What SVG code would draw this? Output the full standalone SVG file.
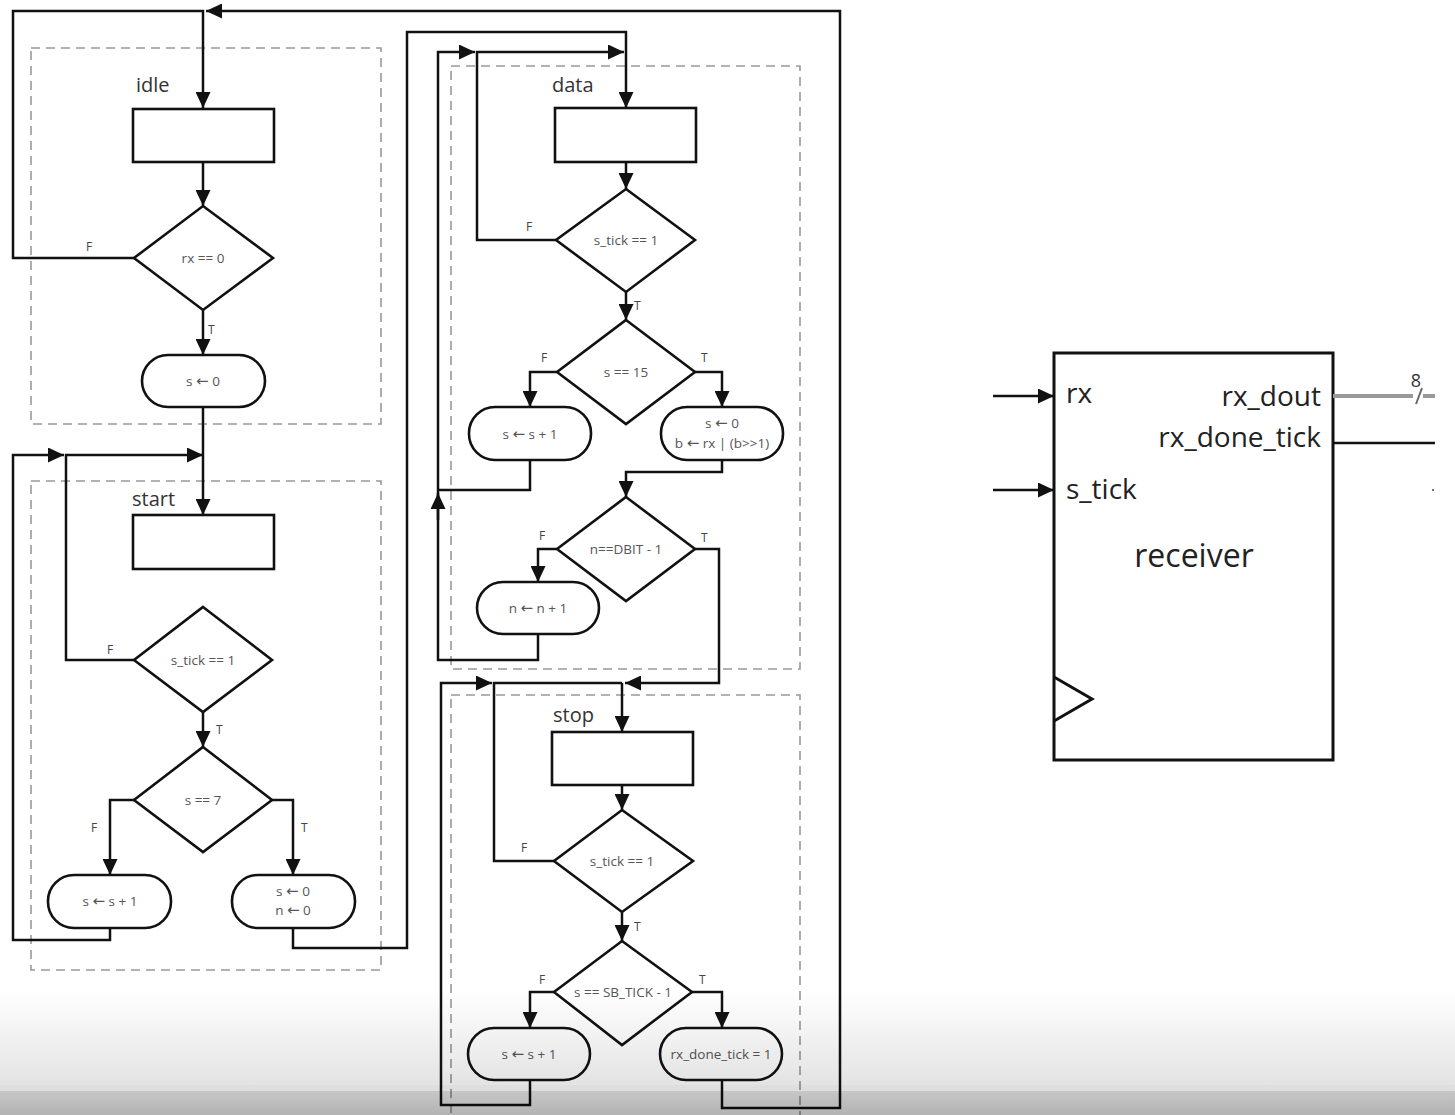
<svg xmlns="http://www.w3.org/2000/svg" width="1455" height="1115" viewBox="0 0 1455 1115">
<style>
.conn path{fill:none;stroke:#111;stroke-width:2.5}
.box{fill:#fff;stroke:#111;stroke-width:2.6}
.grp{fill:none;stroke:#999;stroke-width:1.6;stroke-dasharray:9,6}
.lbl{font-family:"Open Sans","Noto Sans",sans-serif;font-size:13.5px;fill:#555;text-anchor:middle}
.ar{font-family:"DejaVu Sans",sans-serif;font-size:15px}
.tf{font-family:"Open Sans","Noto Sans",sans-serif;font-size:12px;fill:#444}
.state{font-family:"Open Sans","Noto Sans",sans-serif;font-size:20px;fill:#333}
.big{font-family:"Open Sans","Noto Sans",sans-serif;font-size:28px;fill:#222}
</style>
<defs>
<marker id="ah" markerUnits="userSpaceOnUse" markerWidth="16" markerHeight="15" refX="16" refY="7.5" orient="auto"><path d="M0,0 L16,7.5 L0,15 z" fill="#111"/></marker>
<linearGradient id="g1" x1="0" y1="0" x2="0" y2="1"><stop offset="0" stop-color="#000" stop-opacity="0"/><stop offset="1" stop-color="#000" stop-opacity="0.11"/></linearGradient>
<linearGradient id="g2" x1="0" y1="0" x2="0" y2="1"><stop offset="0" stop-color="#000" stop-opacity="0.22"/><stop offset="1" stop-color="#000" stop-opacity="0.3"/></linearGradient>
</defs>
<rect width="1455" height="1115" fill="#fff"/>

<!-- group frames -->
<rect class="grp" x="31" y="48" width="350" height="376"/>
<rect class="grp" x="31" y="481" width="350" height="489"/>
<rect class="grp" x="451" y="66" width="349" height="603"/>
<rect class="grp" x="451" y="695" width="349" height="430"/>
<text class="state" x="136" y="92">idle</text>
<text class="state" x="132" y="506">start</text>
<text class="state" x="552" y="92">data</text>
<text class="state" x="553" y="722">stop</text>

<g class="conn">
<path d="M134,258 H13 V11 H203 V108" marker-end="url(#ah)"/>
<path d="M722,1080 V1108 H840 V11 H206" marker-end="url(#ah)"/>
<path d="M203,162 V206" marker-end="url(#ah)"/>
<path d="M203,310 V355" marker-end="url(#ah)"/>
<path d="M203,407 V515" marker-end="url(#ah)"/>
<path d="M134,660 H66 V455 H203" marker-end="url(#ah)"/>
<path d="M110,928 V940 H13 V455 H64" marker-end="url(#ah)"/>
<path d="M203,712 V747" marker-end="url(#ah)"/>
<path d="M134,800 H110 V875" marker-end="url(#ah)"/>
<path d="M272,800 H293 V875" marker-end="url(#ah)"/>
<path d="M293,928 V948 H407 V32 H626 V108" marker-end="url(#ah)"/>
<path d="M626,162 V189" marker-end="url(#ah)"/>
<path d="M556,240 H477 V52 H624" marker-end="url(#ah)"/>
<path d="M538,634 V660 H438 V52 H475" marker-end="url(#ah)"/>
<path d="M438,520 V493" marker-end="url(#ah)"/>
<path d="M530,460 V490 H438"/>
<path d="M626,292 V320" marker-end="url(#ah)"/>
<path d="M557,372 H530 V407" marker-end="url(#ah)"/>
<path d="M695,372 H722 V407" marker-end="url(#ah)"/>
<path d="M722,460 V472 H626 V497" marker-end="url(#ah)"/>
<path d="M557,549 H538 V582" marker-end="url(#ah)"/>
<path d="M695,549 H719 V683 H625" marker-end="url(#ah)"/>
<path d="M530,1080 V1105 H441 V683 H492" marker-end="url(#ah)"/>
<path d="M554,861 H494 V683 H622"/>
<path d="M622,683 V732" marker-end="url(#ah)"/>
<path d="M622,785 V810" marker-end="url(#ah)"/>
<path d="M622,912 V941" marker-end="url(#ah)"/>
<path d="M554,992 H530 V1028" marker-end="url(#ah)"/>
<path d="M692,992 H722 V1028" marker-end="url(#ah)"/>
<path d="M993,396 H1054" marker-end="url(#ah)"/>
<path d="M993,490 H1054" marker-end="url(#ah)"/>
</g>

<!-- idle -->
<g id="idle-box"><rect class="box" x="133" y="109" width="141" height="53"/></g>
<g id="idle-cond"><polygon class="box" points="203,206 273,258 203,310 134,258"/><text class="lbl" x="203" y="263">rx == 0</text><text class="tf" x="86" y="251">F</text><text class="tf" x="208" y="334">T</text></g>
<g id="idle-act"><rect class="box" x="142" y="355" width="123" height="52" rx="26"/><text class="lbl" x="203" y="386">s <tspan class="ar">←</tspan> 0</text></g>

<!-- start -->
<g id="start-box"><rect class="box" x="133" y="515" width="141" height="54"/></g>
<g id="start-tick"><polygon class="box" points="203,607 272,660 203,712 134,660"/><text class="lbl" x="203" y="665">s_tick == 1</text><text class="tf" x="107" y="654">F</text><text class="tf" x="216" y="734">T</text></g>
<g id="start-s7"><polygon class="box" points="203,747 272,800 203,852 134,800"/><text class="lbl" x="203" y="805">s == 7</text><text class="tf" x="91" y="832">F</text><text class="tf" x="301" y="832">T</text></g>
<g id="start-inc"><rect class="box" x="48" y="875" width="123" height="53" rx="26"/><text class="lbl" x="110" y="906">s <tspan class="ar">←</tspan> s + 1</text></g>
<g id="start-rst"><rect class="box" x="232" y="875" width="123" height="53" rx="26"/><text class="lbl" x="293" y="896">s <tspan class="ar">←</tspan> 0</text><text class="lbl" x="293" y="915">n <tspan class="ar">←</tspan> 0</text></g>

<!-- data -->
<g id="data-box"><rect class="box" x="555" y="108" width="141" height="54"/></g>
<g id="data-tick"><polygon class="box" points="626,189 695,240 626,292 556,240"/><text class="lbl" x="626" y="245">s_tick == 1</text><text class="tf" x="526" y="231">F</text><text class="tf" x="634" y="310">T</text></g>
<g id="data-s15"><polygon class="box" points="626,320 695,372 626,424 557,372"/><text class="lbl" x="626" y="377">s == 15</text><text class="tf" x="541" y="362">F</text><text class="tf" x="701" y="362">T</text></g>
<g id="data-inc"><rect class="box" x="469" y="407" width="122" height="53" rx="26"/><text class="lbl" x="530" y="439">s <tspan class="ar">←</tspan> s + 1</text></g>
<g id="data-shift"><rect class="box" x="661" y="407" width="122" height="53" rx="26"/><text class="lbl" x="722" y="428">s <tspan class="ar">←</tspan> 0</text><text class="lbl" x="722" y="448">b <tspan class="ar">←</tspan> rx | (b&gt;&gt;1)</text></g>
<g id="data-n"><polygon class="box" points="626,497 695,549 626,601 557,549"/><text class="lbl" x="626" y="554">n==DBIT - 1</text><text class="tf" x="539" y="540">F</text><text class="tf" x="701" y="542">T</text></g>
<g id="data-ninc"><rect class="box" x="477" y="582" width="122" height="52" rx="26"/><text class="lbl" x="538" y="613">n <tspan class="ar">←</tspan> n + 1</text></g>

<!-- stop -->
<g id="stop-box"><rect class="box" x="552" y="732" width="141" height="53"/></g>
<g id="stop-tick"><polygon class="box" points="622,810 693,861 622,912 554,861"/><text class="lbl" x="622" y="866">s_tick == 1</text><text class="tf" x="521" y="852">F</text><text class="tf" x="634" y="931">T</text></g>
<g id="stop-sb"><polygon class="box" points="622,941 692,992 622,1045 554,992"/><text class="lbl" x="623" y="997">s == SB_TICK - 1</text><text class="tf" x="539" y="984">F</text><text class="tf" x="699" y="984">T</text></g>
<g id="stop-inc"><rect class="box" x="468" y="1028" width="122" height="52" rx="26"/><text class="lbl" x="529" y="1059">s <tspan class="ar">←</tspan> s + 1</text></g>
<g id="stop-done"><rect class="box" x="660" y="1028" width="122" height="52" rx="26"/><text class="lbl" x="721" y="1059">rx_done_tick = 1</text></g>

<!-- receiver -->
<g id="receiver">
<rect x="1054" y="353" width="279" height="407" fill="#fff" stroke="#111" stroke-width="3"/>
<polyline points="1054,677 1092,699 1054,721" fill="none" stroke="#111" stroke-width="3"/>
<text class="big" x="1066" y="403">rx</text>
<text class="big" x="1066" y="499">s_tick</text>
<text class="big" x="1321" y="406" text-anchor="end">rx_dout</text>
<text class="big" x="1321" y="447" text-anchor="end">rx_done_tick</text>
<text x="1194" y="567" text-anchor="middle" font-family="Open Sans, Noto Sans, sans-serif" font-size="32" fill="#222">receiver</text>
<line x1="1333" y1="396" x2="1413" y2="396" stroke="#999" stroke-width="4"/>
<line x1="1423" y1="396" x2="1435" y2="396" stroke="#999" stroke-width="4"/>
<line x1="1416" y1="404" x2="1422" y2="388" stroke="#666" stroke-width="2"/>
<text x="1416" y="387" text-anchor="middle" font-family="Open Sans, Noto Sans, sans-serif" font-size="18" fill="#333">8</text>
<line x1="1333" y1="443" x2="1435" y2="443" stroke="#111" stroke-width="2.5"/>
<circle cx="1433" cy="490" r="1" fill="#444"/>
</g>

<!-- video overlay shading -->
<rect x="0" y="990" width="1455" height="95" fill="url(#g1)"/>
<rect x="0" y="1085" width="1455" height="6" fill="#000" fill-opacity="0.13"/>
<rect x="0" y="1091" width="1455" height="24" fill="url(#g2)"/>
</svg>
